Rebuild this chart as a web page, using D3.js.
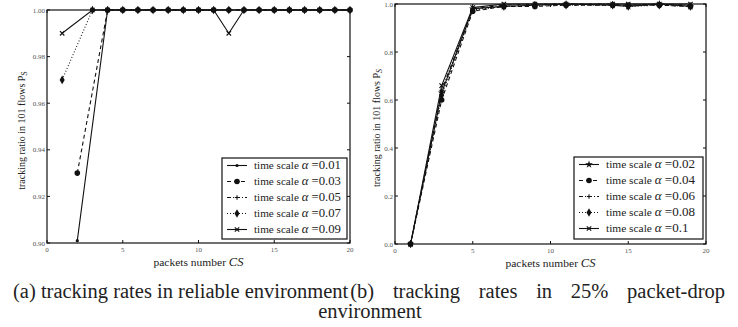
<!DOCTYPE html>
<html>
<head>
<meta charset="utf-8">
<script src="https://cdn.jsdelivr.net/npm/d3@7"></script>
<style>
  body { margin: 0; background: #fff; }
  svg { display: block; }
</style>
</head>
<body>
<div id="chart"></div>
<script>
// left panel: reliable environment (x = packets number, null = no point)
const leftX = d3.range(1, 21);
const leftAlphas = ['0.01', '0.03', '0.05', '0.07', '0.09'];
const leftA001 = [null, 0.901, null, 1, 1, 1, 1, 1, 1, 1, 1, 1, 1, 1, 1, 1, 1, 1, 1, 1];
const leftA003 = [null, 0.93, null, 1, 1, 1, 1, 1, 1, 1, 1, 1, 1, 1, 1, 1, 1, 1, 1, 1];
const leftA005 = [null, null, 1, 1, 1, 1, 1, 1, 1, 1, 1, 1, 1, 1, 1, 1, 1, 1, 1, 1];
const leftA007 = [0.97, null, 1, 1, 1, 1, 1, 1, 1, 1, 1, 1, 1, 1, 1, 1, 1, 1, 1, 1];
const leftA009 = [0.99, null, 1, 1, 1, 1, 1, 1, 1, 1, 1, 0.99, 1, 1, 1, 1, 1, 1, 1, 1];
const leftYTicks = [0.90, 0.92, 0.94, 0.96, 0.98, 1.00];

// right panel: 25% packet-drop environment
const rightX = [1, 3, 5, 7, 9, 11, 14, 15, 17, 19];
const rightAlphas = ['0.02', '0.04', '0.06', '0.08', '0.1'];
const rightA002 = [0, 0.63, 0.98, 0.99, 0.995, 1.0, 0.995, 0.99, 1.0, 0.99];
const rightA004 = [0, 0.60, 0.97, 0.99, 0.99, 0.995, 0.995, 0.995, 0.995, 0.99];
const rightA006 = [0, 0.64, 0.98, 0.995, 1.0, 1.0, 1.0, 0.995, 1.0, 0.995];
const rightA008 = [0, 0.62, 0.975, 0.99, 0.995, 0.995, 0.995, 0.99, 0.995, 0.99];
const rightA01 = [0, 0.66, 0.985, 1.0, 1.0, 1.0, 1.0, 1.0, 1.0, 1.0];
const rightYTicks = [0.0, 0.2, 0.4, 0.6, 0.8, 1.0];

const xTicks = [0, 5, 10, 15, 20];

const W = 738, H = 327;
const SERIF = '"Liberation Serif", "Times New Roman", serif';
const svg = d3.select('#chart').append('svg').attr('width', W).attr('height', H)
  .style('font-family', SERIF);

const dashes = ['none', '4,3', '4,2,1,2', '1,2', 'none'];

const drawMarker = (g, kind, cx, cy) => {
  if (kind === 'dot') {
    g.append('circle').attr('cx', cx).attr('cy', cy).attr('r', 1.6).attr('fill', '#111');
  } else if (kind === 'circle') {
    g.append('circle').attr('cx', cx).attr('cy', cy).attr('r', 2.8).attr('fill', '#111');
  } else if (kind === 'plus') {
    g.append('path').attr('d', `M${cx - 2.2},${cy}H${cx + 2.2}M${cx},${cy - 2.2}V${cy + 2.2}`)
      .attr('stroke', '#111').attr('stroke-width', 1.1);
  } else if (kind === 'diamond') {
    g.append('path').attr('d', d3.symbol(d3.symbolDiamond, 22)()).attr('transform', `translate(${cx},${cy})`).attr('fill', '#111');
  } else if (kind === 'x') {
    g.append('path').attr('d', `M${cx - 2.2},${cy - 2.2}L${cx + 2.2},${cy + 2.2}M${cx - 2.2},${cy + 2.2}L${cx + 2.2},${cy - 2.2}`)
      .attr('stroke', '#111').attr('stroke-width', 1.2);
  } else if (kind === 'star') {
    g.append('path').attr('d', d3.symbol(d3.symbolStar, 18)()).attr('transform', `translate(${cx},${cy})`).attr('fill', '#111');
  }
};

const buildPanel = (opts) => {
  const { left, right, top, bottom, yDomain, yTicks, yFmt, xs, series, alphas, markers, labelX, legend, italicSub } = opts;
  const x = d3.scaleLinear().domain([0, 20]).range([left, right]);
  const y = d3.scaleLinear().domain(yDomain).range([bottom, top]);
  const g = svg.append('g');

  // lines
  series.forEach((vals, i) => {
    const pts = xs.map((xv, j) => [xv, vals[j]]).filter(p => p[1] != null);
    g.append('path')
      .datum(pts)
      .attr('fill', 'none')
      .attr('stroke', '#111')
      .attr('stroke-width', 1.1)
      .attr('stroke-dasharray', dashes[i])
      .attr('d', d3.line().x(d => x(d[0])).y(d => y(d[1])));
    pts.forEach(p => drawMarker(g, markers[i], x(p[0]), y(p[1])));
  });

  // frame
  g.append('rect').attr('x', left).attr('y', top).attr('width', right - left).attr('height', bottom - top)
    .attr('fill', 'none').attr('stroke', '#111').attr('stroke-width', 1.2);

  // ticks (inward, on all sides)
  yTicks.forEach(t => {
    g.append('line').attr('x1', left).attr('x2', left + 3).attr('y1', y(t)).attr('y2', y(t)).attr('stroke', '#111');
    g.append('line').attr('x1', right).attr('x2', right - 3).attr('y1', y(t)).attr('y2', y(t)).attr('stroke', '#111');
    g.append('text').attr('x', left - 2).attr('y', y(t) + 2.5).attr('text-anchor', 'end')
      .style('font-size', '7px').attr('fill', '#555').text(d3.format(yFmt)(t));
  });
  xTicks.forEach(t => {
    g.append('line').attr('x1', x(t)).attr('x2', x(t)).attr('y1', bottom).attr('y2', bottom - 3).attr('stroke', '#111');
    g.append('line').attr('x1', x(t)).attr('x2', x(t)).attr('y1', top).attr('y2', top + 3).attr('stroke', '#111');
    g.append('text').attr('x', x(t)).attr('y', bottom + 9).attr('text-anchor', 'middle')
      .style('font-size', '7px').attr('fill', '#555').text(t);
  });

  // x label
  const xl = g.append('text').attr('x', (left + right) / 2 - 45).attr('y', bottom + 23)
    .attr('textLength', 90).attr('lengthAdjust', 'spacingAndGlyphs')
    .style('font-size', '11px').attr('fill', '#222');
  xl.append('tspan').text('packets number ');
  xl.append('tspan').style('font-style', 'italic').style('font-size', '12px').text('CS');

  // y label
  const yl = g.append('text').attr('transform', `translate(${labelX},${(top + bottom) / 2 + 4}) rotate(-90)`)
    .attr('text-anchor', 'middle').style('font-size', '10px').attr('fill', '#222');
  yl.append('tspan').text('tracking ratio in 101 flows P');
  yl.append('tspan').attr('dy', 2).style('font-size', '8px').style('font-style', italicSub ? 'italic' : 'normal').text('S');

  // legend
  const lg = g.append('g');
  lg.append('rect').attr('x', legend.x).attr('y', legend.y).attr('width', legend.w).attr('height', legend.h)
    .attr('fill', '#fff').attr('stroke', '#111').attr('stroke-width', 1.2);
  let k = null;
  alphas.forEach((a, i) => {
    const ry = legend.y + 7.5 + i * 16;
    lg.append('line').attr('x1', legend.x + 5).attr('x2', legend.x + 25).attr('y1', ry).attr('y2', ry)
      .attr('stroke', '#111').attr('stroke-width', 1.1).attr('stroke-dasharray', dashes[i]);
    drawMarker(lg, markers[i], legend.x + 15, ry);
    const tx = lg.append('text').attr('x', legend.x + 32).attr('y', ry + 3.5)
      .style('font-size', '10.5px').attr('fill', '#222');
    tx.append('tspan').text('time scale ');
    tx.append('tspan').style('font-style', 'italic').style('font-size', '12px').text('α');
    tx.append('tspan').style('font-size', '12px').text(' =' + a);
    const natural = tx.node().getComputedTextLength();
    if (k === null) k = legend.textW / natural;
    tx.attr('textLength', natural * k).attr('lengthAdjust', 'spacingAndGlyphs');
  });
};

buildPanel({
  left: 47, right: 350, top: 10, bottom: 243,
  yDomain: [0.9, 1.0], yTicks: leftYTicks, yFmt: '.2f',
  xs: leftX, series: [leftA001, leftA003, leftA005, leftA007, leftA009], alphas: leftAlphas,
  markers: ['dot', 'circle', 'plus', 'diamond', 'x'],
  labelX: 25, legend: { x: 222, y: 158, w: 125, h: 81, textW: 87 }, italicSub: false,
});

buildPanel({
  left: 395, right: 706, top: 4, bottom: 244,
  yDomain: [0, 1.0], yTicks: rightYTicks, yFmt: '.1f',
  xs: rightX, series: [rightA002, rightA004, rightA006, rightA008, rightA01], alphas: rightAlphas,
  markers: ['star', 'circle', 'plus', 'diamond', 'x'],
  labelX: 380, legend: { x: 574, y: 157, w: 129, h: 82, textW: 89 }, italicSub: true,
});

// caption: one line justified to the right edge, last line centred
const capFont = '20.5px';
const capA = svg.append('text').attr('x', 13).attr('y', 298)
  .style('font-size', capFont).attr('fill', '#222')
  .text('(a) tracking rates in reliable environment');
const aEnd = 13 + capA.node().getComputedTextLength() + 2;

const bWords = ['(b)', 'tracking', 'rates', 'in', '25%', 'packet-drop'];
const bNodes = bWords.map(w => svg.append('text').attr('y', 298)
  .style('font-size', capFont).attr('fill', '#222').text(w));
const bWidths = bNodes.map(n => n.node().getComputedTextLength());
const bGap = (725 - aEnd - d3.sum(bWidths)) / (bWords.length - 1);
let bx = aEnd;
bNodes.forEach((n, i) => {
  n.attr('x', bx);
  bx += bWidths[i] + bGap;
});

svg.append('text').attr('x', 370).attr('y', 318).attr('text-anchor', 'middle')
  .style('font-size', capFont).attr('fill', '#222').text('environment');
</script>
</body>
</html>
